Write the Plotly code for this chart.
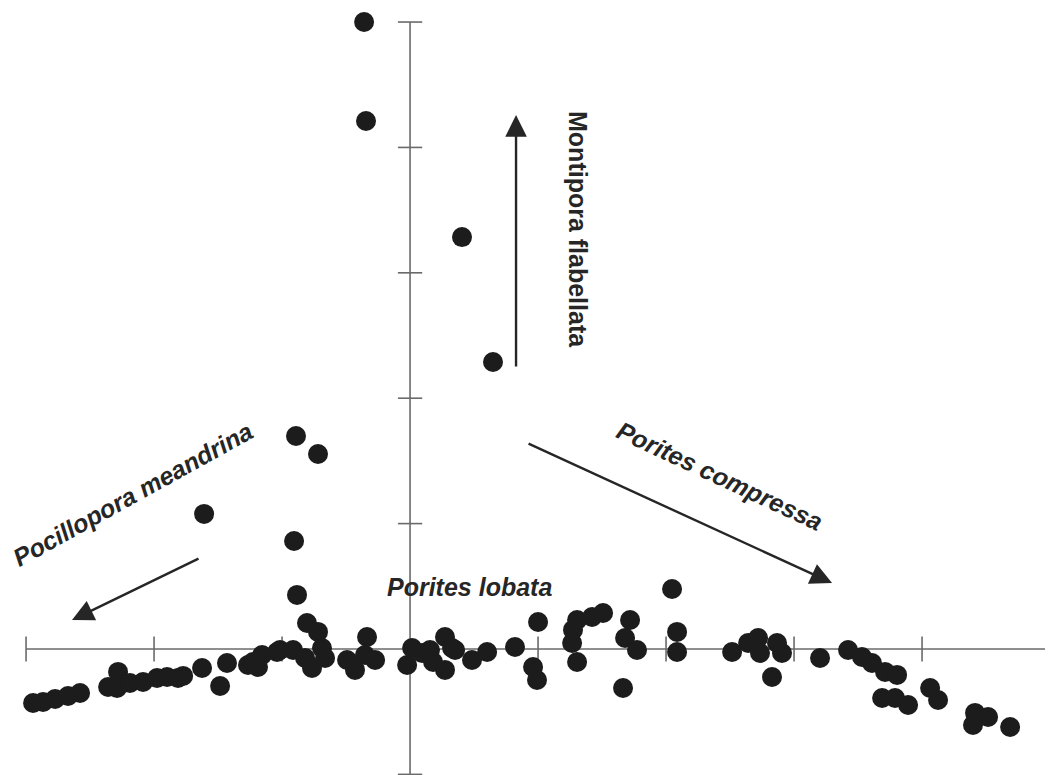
import plotly.graph_objects as go

# Site scores (ordination axis 1, axis 2)
axis1 = [
    -2.945, -2.867, -2.773, -2.672, -2.578, -2.359, -2.281, -2.289, -2.188, -2.086,
    -1.977, -1.898, -1.813, -1.773, -1.625, -1.484, -1.430, -1.266, -1.188, -1.156,
    -1.227, -1.039, -1.016, -0.914, -0.805, -0.719, -0.820, -0.766, -0.688, -0.664,
    -0.492, -0.430, -0.336, -0.352, -0.273, -0.023, 0.016, 0.094, 0.156, 0.180,
    0.273, 0.328, 0.273, 0.352, 0.484, 0.602, 0.820, 1.000, 0.961, 0.992,
    1.305, 1.273, 1.266, 1.305, 1.422, 1.508, 1.719, 1.680, 1.773, 1.664,
    2.086, 2.086, 2.516, 2.641, 2.719, 2.734, 2.867, 2.906, 2.828, 3.203,
    3.422, 3.531, 3.609, 3.711, 3.805, 3.688, 3.789, 3.891, 4.063, 4.125,
    4.414, 4.516, 4.398, 4.688,
    -0.359, -0.344, 0.406, 0.648, -0.891, -0.719, -1.609, -0.906, -0.883, 2.047,
]
axis2 = [
    -0.431, -0.423, -0.399, -0.375, -0.351, -0.303, -0.183, -0.311, -0.271, -0.263,
    -0.231, -0.223, -0.231, -0.215, -0.152, -0.295, -0.112, -0.128, -0.144, -0.048,
    -0.104, -0.024, -0.008, -0.008, 0.207, 0.136, -0.072, -0.152, 0.008, -0.072,
    -0.088, -0.167, 0.096, -0.048, -0.088, -0.128, 0.008, -0.032, -0.008, -0.104,
    0.096, 0.008, -0.167, -0.008, -0.088, -0.024, 0.016, 0.215, -0.144, -0.247,
    0.231, 0.152, 0.048, -0.104, 0.255, 0.287, 0.231, 0.088, -0.008, -0.311,
    0.136, -0.024, -0.024, 0.048, 0.088, -0.032, 0.048, -0.032, -0.223, -0.072,
    -0.008, -0.064, -0.112, -0.183, -0.207, -0.391, -0.391, -0.447, -0.311, -0.407,
    -0.510, -0.542, -0.606, -0.622,
    5.000, 4.211, 3.285, 2.289, 1.699, 1.555, 1.077, 0.861, 0.431, 0.478,
]

# Axis extents and tick positions
x_extent = [-3, 5]
y_extent = [-1, 5]
x_ticks = [-3, -2, -1, 1, 2, 3, 4, 5]
y_ticks = [-1, 1, 2, 3, 4, 5]

# Species vectors
vector_names = ["Montipora flabellata", "Porites compressa", "Pocillopora meandrina"]
vector_tail_x = [0.828, 0.914, -1.641]
vector_tail_y = [2.241, 1.643, 0.726]
vector_head_x = [0.828, 3.297, -2.641]
vector_head_y = [4.258, 0.526, 0.231]

# Labels
label_texts = ["Montipora flabellata", "Porites compressa", "Pocillopora meandrina", "Porites lobata"]
label_x = [1.3125, 2.422, -2.164, 0.461]
label_y = [3.349, 1.380, 1.236, 0.494]
label_angle = [90, 25, -29, 0]
label_italic = [False, True, True, True]

axis_color = "#6a6a6a"
ink = "#1c1c1c"
tick_half_x = 0.095
tick_half_y = 0.1

fig = go.Figure()

shapes = []
shapes.append(dict(type="line", xref="x", yref="y", x0=x_extent[0], x1=x_extent[1], y0=0, y1=0,
                   line=dict(color=axis_color, width=1.6), layer="below"))
shapes.append(dict(type="line", xref="x", yref="y", x0=0, x1=0, y0=y_extent[0], y1=y_extent[1],
                   line=dict(color=axis_color, width=1.6), layer="below"))
for t in x_ticks:
    shapes.append(dict(type="line", xref="x", yref="y", x0=t, x1=t, y0=-tick_half_y, y1=tick_half_y,
                       line=dict(color=axis_color, width=1.6), layer="below"))
for t in y_ticks:
    shapes.append(dict(type="line", xref="x", yref="y", x0=-tick_half_x, x1=tick_half_x, y0=t, y1=t,
                       line=dict(color=axis_color, width=1.6), layer="below"))

fig.add_trace(go.Scatter(
    x=axis1, y=axis2, mode="markers",
    marker=dict(size=20, color=ink, line=dict(width=0)),
    hoverinfo="skip", showlegend=False,
))

annotations = []
for i in range(len(vector_names)):
    annotations.append(dict(
        x=vector_head_x[i], y=vector_head_y[i], ax=vector_tail_x[i], ay=vector_tail_y[i],
        xref="x", yref="y", axref="x", ayref="y", text="", showarrow=True,
        arrowhead=2, arrowsize=1.8, arrowwidth=2.4, arrowcolor="#262626", standoff=0,
    ))
for i in range(len(label_texts)):
    txt = label_texts[i]
    txt = "<b><i>" + txt + "</i></b>" if label_italic[i] else "<b>" + txt + "</b>"
    annotations.append(dict(
        x=label_x[i], y=label_y[i], xref="x", yref="y", text=txt, showarrow=False,
        textangle=label_angle[i], xanchor="center", yanchor="middle",
        font=dict(family="Liberation Sans, Arial, sans-serif", size=25, color="#262626"),
    ))

# The page body has an 8px margin, so the figure is sized and ranged to fill the rest.
fig.update_layout(
    width=1045, height=767,
    margin=dict(l=0, r=0, t=0, b=0),
    paper_bgcolor="white", plot_bgcolor="white",
    xaxis=dict(range=[-3.141, 5.023], visible=False, fixedrange=True),
    yaxis=dict(range=[-1.005, 5.112], visible=False, fixedrange=True),
    shapes=shapes, annotations=annotations, showlegend=False,
)

fig.write_html("out.html")
